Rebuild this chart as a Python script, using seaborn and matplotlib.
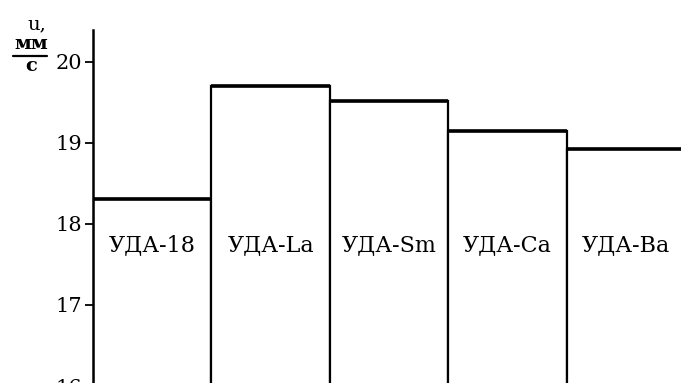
import matplotlib
matplotlib.use("Agg")
import matplotlib.pyplot as plt
from matplotlib.lines import Line2D
import seaborn as sns
import pandas as pd

samples = ["УДА-18", "УДА-La", "УДА-Sm", "УДА-Ca", "УДА-Ba"]
speed = [18.3, 19.7, 19.51, 19.15, 18.92]
yticks = [16, 17, 18, 19, 20]

df = pd.DataFrame({"sample": samples, "u": speed})

sns.set_style("white")
plt.rcParams["font.family"] = ["DejaVu Serif"]
plt.rcParams["text.color"] = "black"
plt.rcParams["ytick.color"] = "black"

fig = plt.figure(figsize=(6.81, 3.83), dpi=100)
# axes runs a bit past the bottom and right edge, like the cropped original
ax = fig.add_axes([93 / 681, -3 / 383, 592 / 681, 356 / 383])

sns.barplot(data=df, x="sample", y="u", color="white", edgecolor="black",
            linewidth=1.6, width=1.0, ax=ax)
for p in ax.patches:
    p.set_facecolor("white")
    x0 = p.get_x()
    ax.hlines(p.get_height(), x0, x0 + p.get_width(), color="black", lw=2.6, zorder=3)

for i, name in enumerate(samples):
    ax.text(i, 17.74, name, ha="center", va="center", fontsize=16, color="black")

ax.set_ylim(16, 20.39)
ax.set_xlim(-0.5, 4.5)
ax.set_yticks(yticks)
ax.set_yticklabels([str(t) for t in yticks], fontsize=15)
ax.tick_params(axis="y", direction="out", length=6, width=1.3, left=True, pad=2,
               colors="black")
ax.set_xticks([])
ax.set_xlabel("")
ax.set_ylabel("")
for s in ["top", "right", "bottom"]:
    ax.spines[s].set_visible(False)
ax.spines["left"].set_linewidth(1.8)
ax.spines["left"].set_color("black")

# axis unit: u, мм/с written as a small fraction
fig.text(37 / 681, 1 - 24 / 383, "u,", ha="center", va="center", fontsize=14)
fig.text(31 / 681, 1 - 44 / 383, "мм", ha="center", va="center", fontsize=14,
         fontweight="bold")
fig.add_artist(Line2D([13 / 681, 47 / 681], [1 - 56 / 383, 1 - 56 / 383],
                      color="black", lw=1.6, transform=fig.transFigure))
fig.text(31 / 681, 1 - 66 / 383, "с", ha="center", va="center", fontsize=14,
         fontweight="bold")

fig.savefig("out.png", dpi=100)
